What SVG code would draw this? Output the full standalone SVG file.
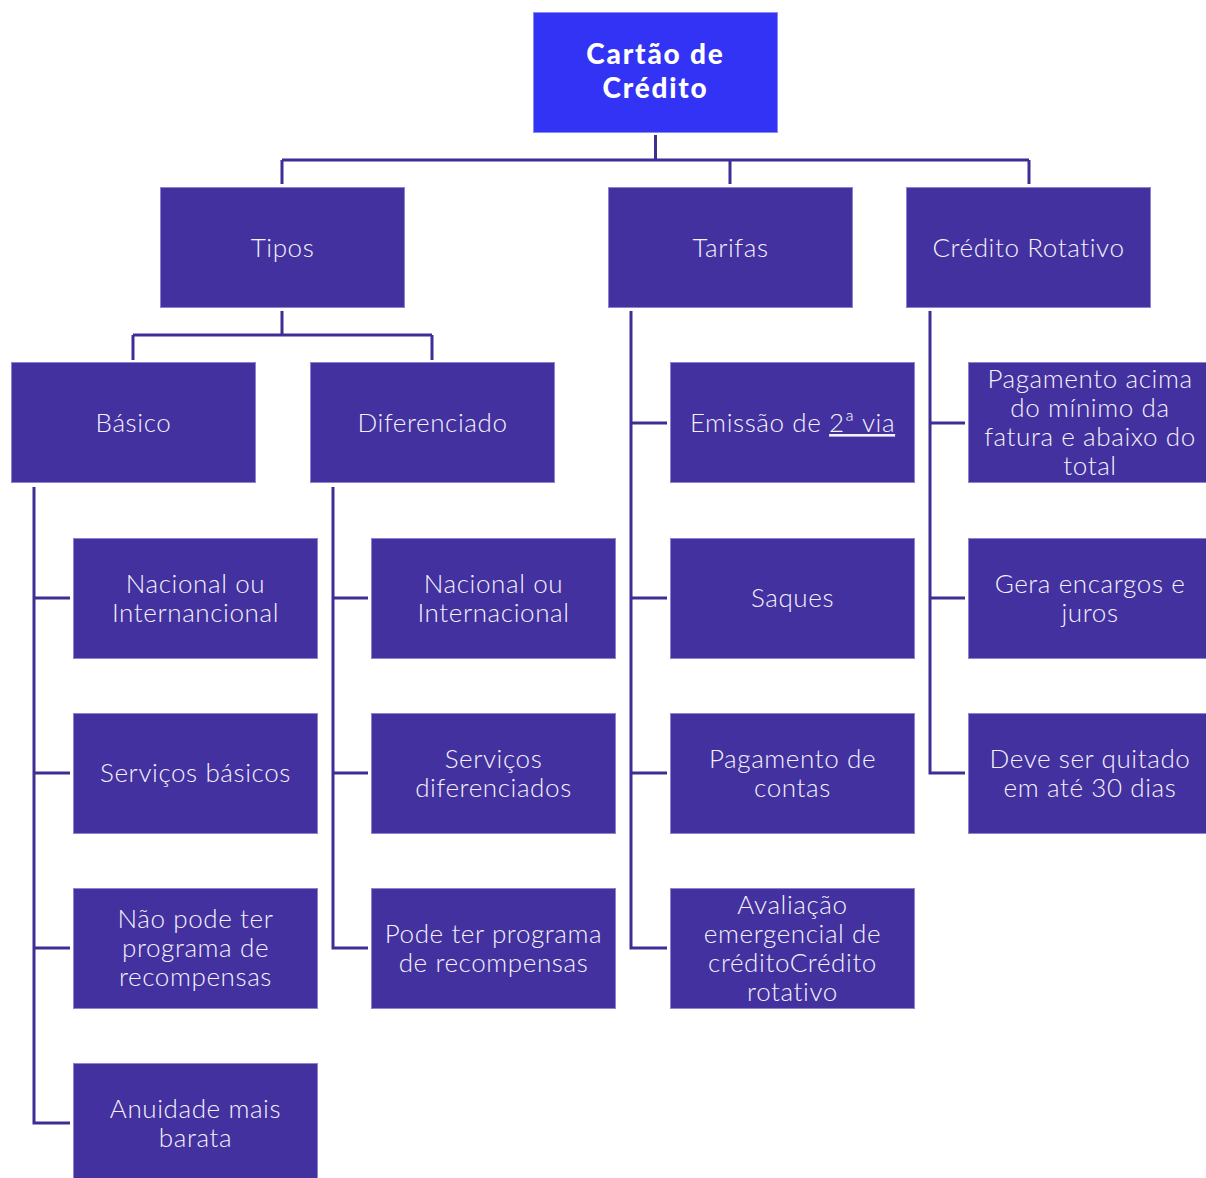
<svg xmlns="http://www.w3.org/2000/svg" width="1206" height="1178" viewBox="0 0 1206 1178">
<style>
.n{fill:#43319f;stroke:#8c84d0;stroke-width:1}
.t{fill:#f4f2fb;font-family:Lato,"Open Sans",sans-serif;font-size:26px;font-weight:300;letter-spacing:0.6px;text-anchor:middle}
.h{fill:#ffffff;font-family:Lato,"Open Sans",sans-serif;font-size:28px;font-weight:900;letter-spacing:1.8px;text-anchor:middle}
.c{fill:none;stroke:#3f2c95;stroke-width:3}
</style>
<rect width="1206" height="1178" fill="#ffffff"/>
<g id="connectors">
<path class="c" d="M655.5 135V160M282 160H1029M282 160V184M730 160V184M1029 160V184"/>
<path class="c" d="M282 311V335M133 335H432M133 335V360M432 335V360"/>
<path class="c" d="M34 487V1123H70M34 598H70M34 773H70M34 948H70"/>
<path class="c" d="M333 487V948H368M333 598H368M333 773H368"/>
<path class="c" d="M631 311V948H667M631 423H667M631 598H667M631 773H667"/>
<path class="c" d="M930 311V773H965M930 423H965M930 598H965"/>
</g>
<g id="root"><rect x="533.5" y="12.5" width="244" height="120" fill="#3333f5" stroke="#8a8af0"/><text class="h" x="655.5" y="64">Cartão de</text><text class="h" x="655.5" y="98">Crédito</text></g>
<g id="tipos"><rect class="n" x="160.5" y="187.5" width="244" height="120"/><text class="t" x="282.5" y="257">Tipos</text></g>
<g id="tarifas"><rect class="n" x="608.5" y="187.5" width="244" height="120"/><text class="t" x="730.5" y="257">Tarifas</text></g>
<g id="rotativo"><rect class="n" x="906.5" y="187.5" width="244" height="120"/><text class="t" x="1028.5" y="257">Crédito Rotativo</text></g>
<g id="basico"><rect class="n" x="11.5" y="362.5" width="244" height="120"/><text class="t" x="133.5" y="432">Básico</text></g>
<g id="diferenciado"><rect class="n" x="310.5" y="362.5" width="244" height="120"/><text class="t" x="432.5" y="432">Diferenciado</text></g>
<g id="b1"><rect class="n" x="73.5" y="538.5" width="244" height="120"/><text class="t" x="195.5" y="593">Nacional ou</text><text class="t" x="195.5" y="622">Internancional</text></g>
<g id="b2"><rect class="n" x="73.5" y="713.5" width="244" height="120"/><text class="t" x="195.5" y="782">Serviços básicos</text></g>
<g id="b3"><rect class="n" x="73.5" y="888.5" width="244" height="120"/><text class="t" x="195.5" y="928">Não pode ter</text><text class="t" x="195.5" y="957">programa de</text><text class="t" x="195.5" y="986">recompensas</text></g>
<g id="b4"><rect class="n" x="73.5" y="1063.5" width="244" height="116"/><text class="t" x="195.5" y="1118">Anuidade mais</text><text class="t" x="195.5" y="1147">barata</text></g>
<g id="d1"><rect class="n" x="371.5" y="538.5" width="244" height="120"/><text class="t" x="493.5" y="593">Nacional ou</text><text class="t" x="493.5" y="622">Internacional</text></g>
<g id="d2"><rect class="n" x="371.5" y="713.5" width="244" height="120"/><text class="t" x="493.5" y="768">Serviços</text><text class="t" x="493.5" y="797">diferenciados</text></g>
<g id="d3"><rect class="n" x="371.5" y="888.5" width="244" height="120"/><text class="t" x="493.5" y="943">Pode ter programa</text><text class="t" x="493.5" y="972">de recompensas</text></g>
<g id="t1"><rect class="n" x="670.5" y="362.5" width="244" height="120"/><text class="t" x="792.5" y="432">Emissão de <tspan text-decoration="underline">2ª via</tspan></text></g>
<g id="t2"><rect class="n" x="670.5" y="538.5" width="244" height="120"/><text class="t" x="792.5" y="607">Saques</text></g>
<g id="t3"><rect class="n" x="670.5" y="713.5" width="244" height="120"/><text class="t" x="792.5" y="768">Pagamento de</text><text class="t" x="792.5" y="797">contas</text></g>
<g id="t4"><rect class="n" x="670.5" y="888.5" width="244" height="120"/><text class="t" x="792.5" y="914">Avaliação</text><text class="t" x="792.5" y="943">emergencial de</text><text class="t" x="792.5" y="972">créditoCrédito</text><text class="t" x="792.5" y="1001">rotativo</text></g>
<g id="r1"><rect class="n" x="968.5" y="362.5" width="238" height="120"/><text class="t" x="1090" y="388">Pagamento acima</text><text class="t" x="1090" y="417">do mínimo da</text><text class="t" x="1090" y="446">fatura e abaixo do</text><text class="t" x="1090" y="475">total</text></g>
<g id="r2"><rect class="n" x="968.5" y="538.5" width="238" height="120"/><text class="t" x="1090" y="593">Gera encargos e</text><text class="t" x="1090" y="622">juros</text></g>
<g id="r3"><rect class="n" x="968.5" y="713.5" width="238" height="120"/><text class="t" x="1090" y="768">Deve ser quitado</text><text class="t" x="1090" y="797">em até 30 dias</text></g>
</svg>
